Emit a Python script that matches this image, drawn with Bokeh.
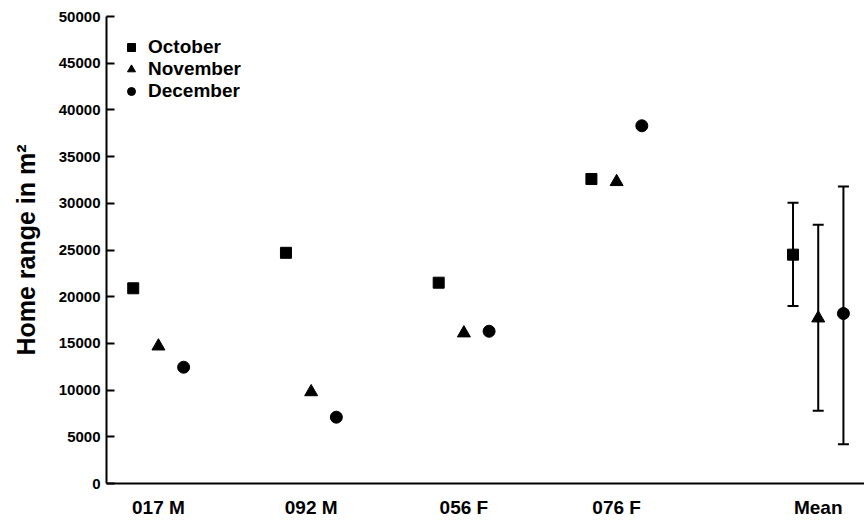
from bokeh.plotting import figure
from bokeh.models import FixedTicker, Whisker, ColumnDataSource, TeeHead
from bokeh.embed import file_html
from bokeh.resources import INLINE

# ---- data ----
groups = ["017 M", "092 M", "056 F", "076 F"]
mean_label = "Mean"
october = [20900, 24700, 21500, 32600]
november = [14700, 9800, 16100, 32300]
december = [12450, 7100, 16300, 38300]
mean_values = {"October": 24500, "November": 17700, "December": 18200}
err_low = {"October": 19000, "November": 7800, "December": 4200}
err_high = {"October": 30050, "November": 27700, "December": 31800}
y_ticks = [0, 5000, 10000, 15000, 20000, 25000, 30000, 35000, 40000, 45000, 50000]

# ---- layout positions (not data) ----
group_pos = [1, 2, 3, 4]
mean_pos = 5.32
offset = 0.165
FONT = "Liberation Sans"

p = figure(frame_width=758, frame_height=467, output_backend="svg", toolbar_location=None,
           x_range=(0.66, 5.623), y_range=(0, 50000),
           min_border_left=106, min_border_right=0, min_border_top=16, min_border_bottom=33)
p.outline_line_color = None
p.xgrid.visible = False
p.ygrid.visible = False
p.background_fill_color = "white"

series = [("October", october, "square", 11, -offset),
          ("November", november, "triangle", 13, 0.0),
          ("December", december, "circle", 12, offset)]

for name, vals, marker, size, off in series:
    xs = [g + off for g in group_pos] + [mean_pos + off]
    ys = list(vals) + [mean_values[name]]
    src = ColumnDataSource(dict(x=xs, y=ys))
    wsrc = ColumnDataSource(dict(x=[mean_pos + off], lower=[err_low[name]], upper=[err_high[name]]))
    p.add_layout(Whisker(source=wsrc, base="x", lower="lower", upper="upper",
                         line_color="black", line_width=2,
                         upper_head=TeeHead(size=11, line_width=2, line_color="black"),
                         lower_head=TeeHead(size=11, line_width=2, line_color="black")))
    p.scatter("x", "y", source=src, marker=marker, size=size, color="black", legend_label=name)

# x axis
xa = p.xaxis[0]
xa.ticker = FixedTicker(ticks=group_pos + [mean_pos])
overrides = {g: lab for g, lab in zip(group_pos, groups)}
overrides[mean_pos] = mean_label
xa.major_label_overrides = overrides
xa.major_tick_line_color = None
xa.minor_tick_line_color = None
xa.axis_line_width = 2
xa.axis_line_color = "black"
xa.major_label_text_font = FONT
xa.major_label_text_font_style = "bold"
xa.major_label_text_font_size = "19px"
xa.major_label_text_color = "black"
xa.major_label_standoff = 7

# y axis
ya = p.yaxis[0]
ya.ticker = FixedTicker(ticks=y_ticks)
ya.major_tick_in = 8
ya.major_tick_out = 0
ya.major_tick_line_width = 2
ya.major_tick_line_color = "black"
ya.minor_tick_line_color = None
ya.axis_line_width = 2
ya.axis_line_color = "black"
ya.major_label_text_font = FONT
ya.major_label_text_font_style = "bold"
ya.major_label_text_font_size = "15px"
ya.major_label_text_color = "black"
ya.major_label_standoff = 6
ya.axis_label = "Home range in m²"
ya.axis_label_text_font = FONT
ya.axis_label_text_font_style = "bold"
ya.axis_label_text_font_size = "25px"
ya.axis_label_text_color = "black"
ya.axis_label_standoff = 16

# legend
lg = p.legend[0]
lg.location = (15, 381)
lg.border_line_color = None
lg.background_fill_alpha = 0
lg.padding = 0
lg.margin = 0
lg.spacing = 0
lg.glyph_height = 22
lg.glyph_width = 20
lg.label_height = 22
lg.label_standoff = 7
lg.label_text_font = FONT
lg.label_text_font_style = "bold"
lg.label_text_font_size = "19px"
lg.label_text_color = "black"

open("out.html", "w").write(file_html(p, INLINE))
